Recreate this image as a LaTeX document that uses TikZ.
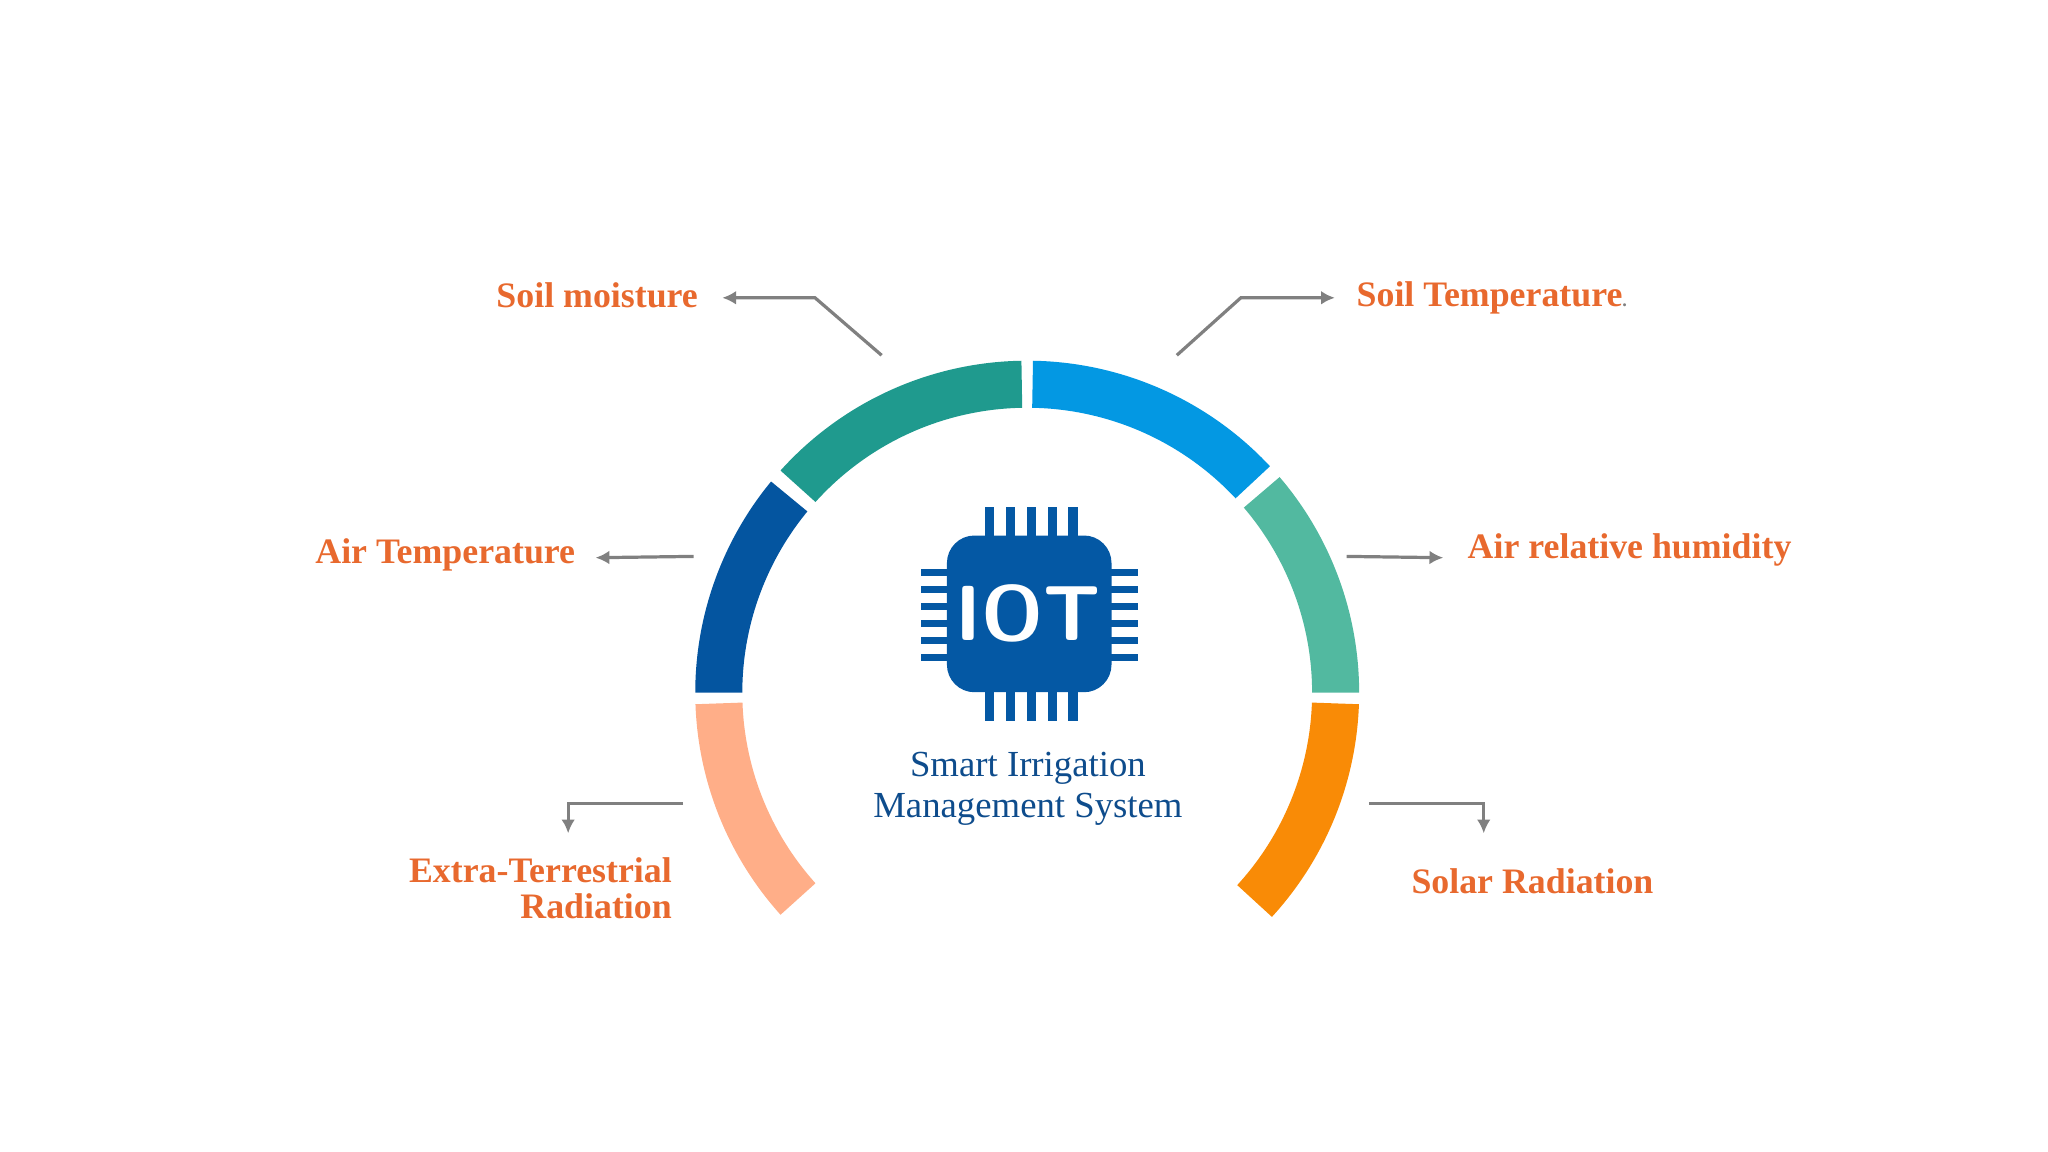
\documentclass[tikz,border=0pt]{standalone}
\usepackage{fontspec}
\setmainfont{Liberation Serif}
\usetikzlibrary{arrows.meta}
\definecolor{cTeal}{HTML}{1F9A8E}
\definecolor{cDark}{HTML}{0455A0}
\definecolor{cPeach}{HTML}{FFAE88}
\definecolor{cBlue}{HTML}{0398E3}
\definecolor{cGreen}{HTML}{52B9A0}
\definecolor{cOrange}{HTML}{F98B06}
\definecolor{cChip}{HTML}{0458A4}
\definecolor{cTxt}{HTML}{0E4C8C}
\definecolor{cLab}{HTML}{E8692E}
\definecolor{cArr}{HTML}{808080}
\tikzset{
  lab/.style={font=\bfseries\fontsize{7.8}{9}\selectfont, text=cLab, inner sep=0pt},
  conn/.style={draw=cArr, line width=0.7pt, -{Latex[length=3pt,width=3pt]}},
  pin/.style={fill=cChip, draw=none}
}
\newcommand{\myseg}[3]{\fill[#1] (#2:2.54) arc[start angle=#2,end angle=#3,radius=2.54] -- (#3:2.18) arc[start angle=#3,end angle=#2,radius=2.18] -- cycle;}
\begin{document}
\begin{tikzpicture}[x=0.01cm,y=-0.01cm]
\useasboundingbox (0,0) rectangle (1568,882);
\coordinate (c) at (786,530);
\begin{scope}[x=1cm,y=1cm,shift={(7.86,-5.30)}]
\myseg{cTeal}{91}{138}
\myseg{cDark}{140.5}{180}
\myseg{cPeach}{182}{222}
\myseg{cBlue}{89}{43}
\myseg{cGreen}{40.5}{0}
\myseg{cOrange}{-2}{-42.5}
\end{scope}
% chip
\fill[cChip, rounded corners=6pt] (725,410) rectangle (851,530);
\foreach \i in {0,...,4} {
  \fill[pin] (754+\i*16,388) rectangle (761+\i*16,412);
  \fill[pin] (754+\i*16,528) rectangle (761+\i*16,552);
}
\foreach \j in {0,...,5} {
  \fill[pin] (705,436+\j*13) rectangle (727,441+\j*13);
  \fill[pin] (849,436+\j*13) rectangle (871,441+\j*13);
}
\node[text=white, font=\sffamily\bfseries\fontsize{17}{17}\selectfont, inner sep=0pt] (iot) at (787,470) {IOT};
\node[text=cTxt, align=center, font=\fontsize{8}{9.1}\selectfont, inner sep=0pt] (title) at (787,604) {Smart Irrigation\\Management System};
% labels
\node[lab, anchor=east] (sm) at (535,226) {Soil moisture};
\node[lab, anchor=west] (st) at (1038,228) {Soil Temperature\textcolor{cArr}{\fontsize{4}{4}\selectfont .}};
\node[lab, anchor=east] (at) at (441,425) {Air Temperature};
\node[lab, anchor=west] (ah) at (1123,421) {Air relative humidity};
\node[lab, anchor=east, align=right, font=\bfseries\fontsize{7.8}{7.7}\selectfont] (et) at (515,680) {Extra-Terrestrial\\Radiation};
\node[lab, anchor=west] (sr) at (1080,675) {Solar Radiation};
% connectors
\coordinate (a1) at (675,272); \coordinate (a1e) at (553,228);
\draw[conn] (a1) -- (624,228) -- (a1e);
\coordinate (a2) at (901,272); \coordinate (a2e) at (1022,228);
\draw[conn] (a2) -- (950,228) -- (a2e);
\coordinate (a3) at (531,426); \coordinate (a3e) at (456,427);
\draw[conn] (a3) -- (a3e);
\coordinate (a4) at (1031,426); \coordinate (a4e) at (1105,427);
\draw[conn] (a4) -- (a4e);
\coordinate (a5) at (523,615); \coordinate (a5e) at (435,638);
\draw[conn] (a5) -- (435,615) -- (a5e);
\coordinate (a6) at (1048,615); \coordinate (a6e) at (1136,638);
\draw[conn] (a6) -- (1136,615) -- (a6e);
\end{tikzpicture}
\end{document}
